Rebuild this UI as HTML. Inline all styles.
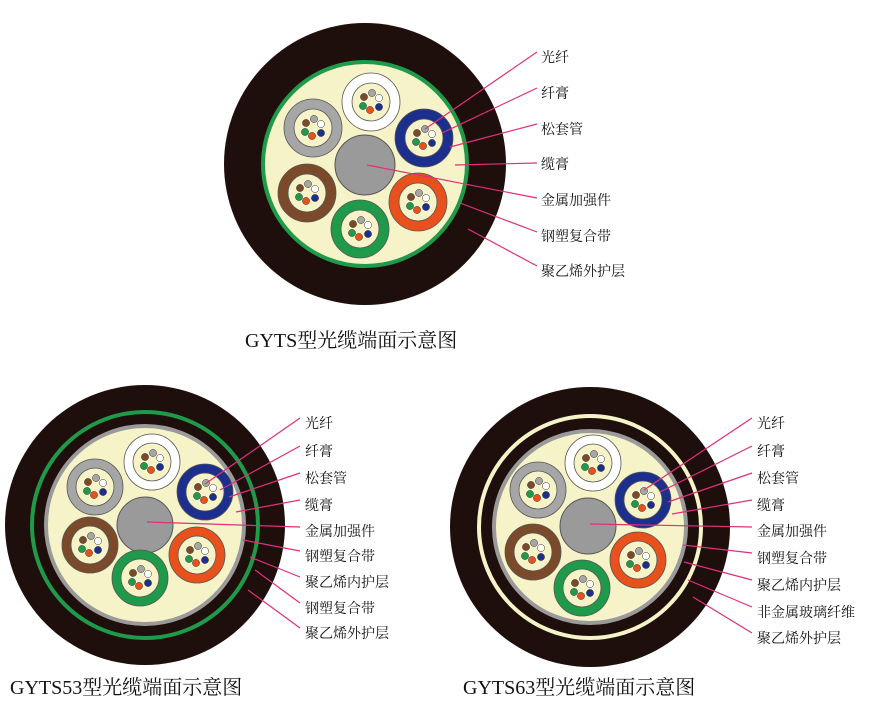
<!DOCTYPE html>
<html><head><meta charset="utf-8"><style>
body{margin:0;background:#fff}
svg{display:block}
text{font-family:"Liberation Serif","Noto Serif CJK SC",serif;fill:#111}
</style></head><body>
<svg width="870" height="709" viewBox="0 0 870 709" xmlns="http://www.w3.org/2000/svg">
<defs>
<g id="f">
<circle cx="0" cy="0" r="19" fill="#f6f3c8" stroke="#555" stroke-width="0.8"/>
<g stroke="#333" stroke-width="0.5">
<circle cx="1" cy="-9" r="3.6" fill="#a6a6a6"/>
<circle cx="8" cy="-4" r="3.6" fill="#fff"/>
<circle cx="8" cy="5" r="3.6" fill="#1c2f8c"/>
<circle cx="-1" cy="8" r="3.6" fill="#e8501c"/>
<circle cx="-8" cy="4" r="3.6" fill="#1f9a4a"/>
<circle cx="-7" cy="-5" r="3.6" fill="#7b4a2a"/>
</g></g>
</defs>

<!-- TOP -->
<circle cx="365" cy="164" r="141" fill="#1e0f0c"/>
<circle cx="365" cy="164" r="102" fill="#f6f3c8" stroke="#1f9a4a" stroke-width="4"/>
<circle cx="365" cy="165" r="30" fill="#9a9a9a" stroke="#555"/>
<g stroke="#555" stroke-width="0.8">
<circle cx="371" cy="102" r="29" fill="#fff"/>
<circle cx="424" cy="138" r="29" fill="#1c2f8c"/>
<circle cx="418" cy="202" r="29" fill="#e8501c"/>
<circle cx="360" cy="229" r="29" fill="#1f9a4a"/>
<circle cx="307" cy="193" r="29" fill="#7b4a2a"/>
<circle cx="313" cy="128" r="29" fill="#a6a6a6"/>
</g>
<use href="#f" x="371" y="102"/><use href="#f" x="424" y="138"/><use href="#f" x="418" y="202"/>
<use href="#f" x="360" y="229"/><use href="#f" x="307" y="193"/><use href="#f" x="313" y="128"/>
<g stroke="#e0307a" stroke-width="1.2">
<line x1="425" y1="129" x2="537" y2="52"/>
<line x1="442" y1="133" x2="537" y2="88"/>
<line x1="450" y1="147" x2="537" y2="124"/>
<line x1="455" y1="165" x2="537" y2="163"/>
<line x1="367" y1="165" x2="537" y2="198"/>
<line x1="460" y1="203" x2="537" y2="232"/>
<line x1="468" y1="229" x2="537" y2="266"/>
</g>
<g font-size="14">
<text x="541" y="62">光纤</text><text x="541" y="98">纤膏</text><text x="541" y="134">松套管</text>
<text x="541" y="169">缆膏</text><text x="541" y="205">金属加强件</text><text x="541" y="241">钢塑复合带</text>
<text x="541" y="276">聚乙烯外护层</text>
</g>
<text x="245" y="347" font-size="20">GYTS型光缆端面示意图</text>

<!-- BOTTOM LEFT -->
<circle cx="145" cy="525" r="140" fill="#1e0f0c"/>
<circle cx="145" cy="525" r="113" fill="none" stroke="#1f9a4a" stroke-width="4"/>
<circle cx="145" cy="525" r="99" fill="#f6f3c8" stroke="#9a9a9a" stroke-width="4"/>
<circle cx="145" cy="525" r="28" fill="#9a9a9a" stroke="#555"/>
<g stroke="#555" stroke-width="0.8">
<circle cx="152" cy="462" r="28" fill="#fff"/>
<circle cx="205" cy="492" r="28" fill="#1c2f8c"/>
<circle cx="197" cy="555" r="28" fill="#e8501c"/>
<circle cx="140" cy="578" r="28" fill="#1f9a4a"/>
<circle cx="90" cy="545" r="28" fill="#7b4a2a"/>
<circle cx="95" cy="487" r="28" fill="#a6a6a6"/>
</g>
<use href="#f" x="152" y="462"/><use href="#f" x="205" y="492"/><use href="#f" x="197" y="555"/>
<use href="#f" x="140" y="578"/><use href="#f" x="90" y="545"/><use href="#f" x="95" y="487"/>
<g stroke="#e0307a" stroke-width="1.2">
<line x1="205" y1="484" x2="300" y2="418"/>
<line x1="220" y1="490" x2="300" y2="446"/>
<line x1="229" y1="497" x2="300" y2="473"/>
<line x1="236" y1="512" x2="300" y2="500"/>
<line x1="147" y1="522" x2="300" y2="527"/>
<line x1="243" y1="540" x2="300" y2="551"/>
<line x1="250" y1="557" x2="300" y2="577"/>
<line x1="255" y1="570" x2="300" y2="603"/>
<line x1="248" y1="590" x2="300" y2="628"/>
</g>
<g font-size="14">
<text x="305" y="428">光纤</text><text x="305" y="456">纤膏</text><text x="305" y="483">松套管</text>
<text x="305" y="510">缆膏</text><text x="305" y="536">金属加强件</text><text x="305" y="561">钢塑复合带</text>
<text x="305" y="587">聚乙烯内护层</text><text x="305" y="613">钢塑复合带</text><text x="305" y="638">聚乙烯外护层</text>
</g>
<text x="10" y="694" font-size="20">GYTS53型光缆端面示意图</text>

<!-- BOTTOM RIGHT -->
<circle cx="590" cy="527" r="140" fill="#1e0f0c"/>
<circle cx="590" cy="527" r="111" fill="none" stroke="#f6f3c8" stroke-width="4"/>
<circle cx="590" cy="527" r="96" fill="#f6f3c8" stroke="#9a9a9a" stroke-width="4"/>
<circle cx="588" cy="526" r="28" fill="#9a9a9a" stroke="#555"/>
<g stroke="#555" stroke-width="0.8">
<circle cx="593" cy="463" r="28" fill="#fff"/>
<circle cx="643" cy="500" r="28" fill="#1c2f8c"/>
<circle cx="638" cy="560" r="28" fill="#e8501c"/>
<circle cx="582" cy="588" r="28" fill="#1f9a4a"/>
<circle cx="533" cy="552" r="28" fill="#7b4a2a"/>
<circle cx="538" cy="490" r="28" fill="#a6a6a6"/>
</g>
<use href="#f" x="593" y="463"/><use href="#f" x="643" y="500"/><use href="#f" x="638" y="560"/>
<use href="#f" x="582" y="588"/><use href="#f" x="533" y="552"/><use href="#f" x="538" y="490"/>
<g stroke="#e0307a" stroke-width="1.2">
<line x1="644" y1="490" x2="752" y2="418"/>
<line x1="660" y1="492" x2="752" y2="446"/>
<line x1="668" y1="502" x2="752" y2="473"/>
<line x1="672" y1="514" x2="752" y2="500"/>
<line x1="590" y1="524" x2="752" y2="527"/>
<line x1="683" y1="545" x2="752" y2="553"/>
<line x1="684" y1="562" x2="752" y2="580"/>
<line x1="688" y1="580" x2="752" y2="607"/>
<line x1="693" y1="597" x2="752" y2="633"/>
</g>
<g font-size="14">
<text x="757" y="428">光纤</text><text x="757" y="456">纤膏</text><text x="757" y="483">松套管</text>
<text x="757" y="510">缆膏</text><text x="757" y="536">金属加强件</text><text x="757" y="563">钢塑复合带</text>
<text x="757" y="590">聚乙烯内护层</text><text x="757" y="617">非金属玻璃纤维</text><text x="757" y="643">聚乙烯外护层</text>
</g>
<text x="463" y="694" font-size="20">GYTS63型光缆端面示意图</text>
</svg>
</body></html>
